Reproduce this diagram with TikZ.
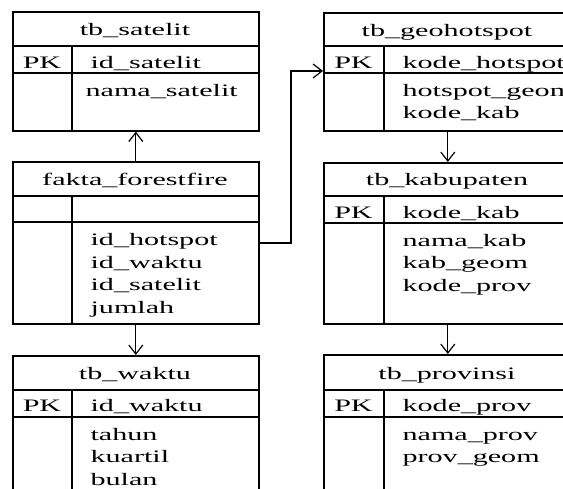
\documentclass[tikz,border=0pt]{standalone}
\usepackage{fontspec}
\setmainfont{Liberation Serif}
\usepackage{graphicx}
\usetikzlibrary{arrows.meta}
\newcommand{\lebar}[1]{\scalebox{1.72}[1]{#1}}

\begin{document}
\begin{tikzpicture}[x=1pt,y=-1pt,line width=1.2pt]
  \tikzset{
  tabel/.style={draw,rectangle,line width=1.6pt,inner sep=0pt,anchor=north west},
  judul/.style={anchor=base,inner sep=0pt,font=\fontsize{17.5}{21}\selectfont},
  isi/.style={anchor=base west,inner sep=0pt,font=\fontsize{17.5}{21}\selectfont},
  panah/.style={-{Straight Barb[length=9pt,width=14pt]},line width=1.2pt},
  }
  \useasboundingbox (0,0) rectangle (563,489);
  \clip (0,0) rectangle (563,489);

  % the tables on the left
  \node[tabel,minimum width=246pt,minimum height=119pt] (satelit) at (12,11) {};
  \draw (12,46) -- (258,46);
  \draw (12,73) -- (258,73);
  \draw (72,46) -- (72,130);
  \node[judul] (satelit-judul) at (135,35.5) {\lebar{tb\_satelit}};
  \node[judul] (satelit-pk) at (42,68.5) {\lebar{PK}};
  \node[isi] (satelit-1) at (90,68.5) {\lebar{id\_satelit}};
  \node[isi] (satelit-2) at (85,96.5) {\lebar{nama\_satelit}};

  \node[tabel,minimum width=246pt,minimum height=162pt] (fakta) at (12,161) {};
  \draw (12,196) -- (258,196);
  \draw (12,222) -- (258,222);
  \draw (72,196) -- (72,323);
  \node[judul] (fakta-judul) at (135,185.5) {\lebar{fakta\_forestfire}};
  \foreach \teks [count=\i] in {id\_hotspot,id\_waktu,id\_satelit,jumlah}
    \node[isi] (fakta-\i) at (90,{246+22.5*(\i-1)}) {\lebar{\teks}};

  \node[tabel,minimum width=246pt,minimum height=150pt] (waktu) at (12,355) {};
  \draw (12,390) -- (258,390);
  \draw (12,417) -- (258,417);
  \draw (72,390) -- (72,505);
  \node[judul] (waktu-judul) at (135,380) {\lebar{tb\_waktu}};
  \node[judul] (waktu-pk) at (42,412) {\lebar{PK}};
  \node[isi] (waktu-pk-isi) at (90,412) {\lebar{id\_waktu}};
  \foreach \teks [count=\i] in {tahun,kuartil,bulan}
    \node[isi] (waktu-\i) at (90,{440+22.5*(\i-1)}) {\lebar{\teks}};

  % the tables on the right
  \node[tabel,minimum width=248pt,minimum height=118pt] (geohotspot) at (323,12) {};
  \draw (323,46) -- (571,46);
  \draw (323,73) -- (571,73);
  \draw (384,46) -- (384,130);
  \node[judul] (geohotspot-judul) at (447,36.5) {\lebar{tb\_geohotspot}};
  \node[judul] (geohotspot-pk) at (353.5,68.5) {\lebar{PK}};
  \node[isi] (geohotspot-pk-isi) at (402,68.5) {\lebar{kode\_hotspot}};
  \foreach \teks [count=\i] in {hotspot\_geom,kode\_kab}
    \node[isi] (geohotspot-\i) at (402,{96.5+22.5*(\i-1)}) {\lebar{\teks}};

  \node[tabel,minimum width=248pt,minimum height=161pt] (kabupaten) at (323,162) {};
  \draw (323,196) -- (571,196);
  \draw (323,223) -- (571,223);
  \draw (384,196) -- (384,323);
  \node[judul] (kabupaten-judul) at (447,186) {\lebar{tb\_kabupaten}};
  \node[judul] (kabupaten-pk) at (353.5,218.5) {\lebar{PK}};
  \node[isi] (kabupaten-pk-isi) at (402,218.5) {\lebar{kode\_kab}};
  \foreach \teks [count=\i] in {nama\_kab,kab\_geom,kode\_prov}
    \node[isi] (kabupaten-\i) at (402,{246.5+22.5*(\i-1)}) {\lebar{\teks}};

  \node[tabel,minimum width=248pt,minimum height=151pt] (provinsi) at (323,354) {};
  \draw (323,390) -- (571,390);
  \draw (323,417) -- (571,417);
  \draw (384,390) -- (384,505);
  \node[judul] (provinsi-judul) at (447,380) {\lebar{tb\_provinsi}};
  \node[judul] (provinsi-pk) at (353.5,412) {\lebar{PK}};
  \node[isi] (provinsi-pk-isi) at (402,412) {\lebar{kode\_prov}};
  \foreach \teks [count=\i] in {nama\_prov,prov\_geom}
    \node[isi] (provinsi-\i) at (402,{440+22.5*(\i-1)}) {\lebar{\teks}};

  % the connection between the tables
  \coordinate (belok1) at (291,243);
  \coordinate (belok2) at (291,71);
  \draw[panah] (fakta.north) -- (satelit.south);
  \draw[panah] (fakta.south) -- (waktu.north);
  \draw[panah] (geohotspot.south) -- (kabupaten.north);
  \draw[panah] (kabupaten.south) -- (provinsi.north);
  \draw[panah] (fakta.east |- belok1) -- (belok1) -- (belok2) -- (geohotspot.west |- belok2);
\end{tikzpicture}
\end{document}
